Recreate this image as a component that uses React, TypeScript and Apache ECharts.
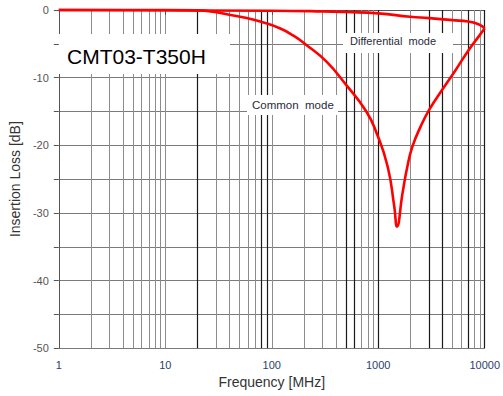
import React, { useEffect, useRef } from "react";
import * as echarts from "echarts";

const commonFreq = [1, 10, 20, 28, 41, 55, 78, 119, 160, 213, 325, 502, 773, 955, 1224, 1414, 1500, 1690, 1880, 2093, 2507, 2998, 3990, 5320, 7080, 8800, 10000];
const commonLoss = [0, 0, -0.05, -0.25, -0.74, -1.1, -1.7, -2.7, -3.8, -5.2, -7.6, -11.1, -15.0, -18.0, -23.1, -29.0, -32.0, -27.1, -23.1, -20.2, -17.2, -14.8, -11.8, -8.9, -5.9, -3.9, -2.7];

const diffFreq = [1, 100, 300, 500, 1000, 2000, 3000, 5000, 7000, 8000, 9000, 10000];
const diffLoss = [0, -0.1, -0.2, -0.3, -0.5, -1.0, -1.2, -1.5, -1.7, -1.9, -2.2, -2.7];

const xTickLabels = ["1", "10", "100", "1000", "10000"];
const yTicks = [0, -10, -20, -30, -40, -50];

const minorFreqs: number[] = [];
[1, 10, 100, 1000].forEach((d) => {
  for (let m = 2; m <= 9; m++) minorFreqs.push(m * d);
});
const darkFreqs = [20, 80, 90, 500, 600, 1000, 3000, 4000, 7000, 10000];

const FONT = "'Liberation Sans', Arial, sans-serif";

export default function App() {
  const ref = useRef<HTMLDivElement>(null);
  useEffect(() => {
    if (!ref.current) return;
    const chart = echarts.init(ref.current, null, { renderer: "svg" });
    const gridLines = [
      ...minorFreqs.filter((f) => !darkFreqs.includes(f)).map((f) => ({ xAxis: f, lineStyle: { color: "#8c8c8c", width: 1, type: "solid" } })),
      ...darkFreqs.map((f) => ({ xAxis: f, lineStyle: { color: "#1a1a1a", width: 1.2, type: "solid" } })),
    ];
    chart.setOption({
      animation: false,
      backgroundColor: "#ffffff",
      grid: { left: 57.3, right: 17, top: 10, bottom: 47.7, containLabel: false },
      xAxis: {
        type: "log",
        logBase: 10,
        min: 1,
        max: 10000,
        name: "Frequency [MHz]",
        nameLocation: "middle",
        nameGap: 26,
        nameTextStyle: { fontFamily: FONT, fontSize: 14, color: "#333" },
        axisLine: { show: true, lineStyle: { color: "#555", width: 1 } },
        axisTick: { show: true, length: 5, lineStyle: { color: "#555" } },
        axisLabel: {
          fontFamily: FONT,
          fontSize: 11,
          color: "#2b3f6b",
          margin: 11,
          formatter: (v: number) => {
            const s = String(Math.round(v));
            return xTickLabels.includes(s) ? s : "";
          },
        },
        splitLine: { show: true, lineStyle: { color: "#8c8c8c", width: 1 } },
      },
      yAxis: {
        type: "value",
        min: -50,
        max: 0,
        interval: 5,
        name: "Insertion Loss [dB]",
        nameLocation: "middle",
        nameGap: 33,
        nameRotate: 90,
        nameTextStyle: { fontFamily: FONT, fontSize: 14, color: "#333" },
        axisLine: { show: true, lineStyle: { color: "#555", width: 1 } },
        axisTick: { show: true, length: 5, lineStyle: { color: "#555" } },
        axisLabel: {
          fontFamily: FONT,
          fontSize: 11,
          color: "#555",
          margin: 10,
          formatter: (v: number) => (yTicks.includes(v) ? String(v) : ""),
        },
        splitLine: { show: true, lineStyle: { color: "#7a7a7a", width: 1 } },
      },
      graphic: [
        { type: "rect", shape: { x: 59, y: 34, width: 171, height: 40 }, style: { fill: "#fff" }, z: 10 },
        { type: "text", x: 67, y: 56, style: { text: "CMT03-T350H", font: `21px ${FONT}`, fill: "#000", textVerticalAlign: "middle" }, z: 11 },
        { type: "rect", shape: { x: 343, y: 33, width: 110, height: 20 }, style: { fill: "#fff" }, z: 10 },
        { type: "text", x: 350, y: 40.5, style: { text: "Differential  mode", font: `11px ${FONT}`, fill: "#2a2a3a", textVerticalAlign: "middle" }, z: 11 },
        { type: "rect", shape: { x: 247, y: 95, width: 91, height: 20 }, style: { fill: "#fff" }, z: 10 },
        { type: "text", x: 252, y: 105, style: { text: "Common  mode", font: `11.5px ${FONT}`, fill: "#2a2a3a", textVerticalAlign: "middle" }, z: 11 },
      ],
      series: [
        {
          type: "line",
          data: [[1, -50]],
          showSymbol: false,
          symbol: "none",
          lineStyle: { width: 0 },
          silent: true,
          z: 1,
          markLine: {
            silent: true,
            symbol: ["none", "none"],
            label: { show: false },
            animation: false,
            data: gridLines,
          },
        },
        {
          name: "Common mode",
          type: "line",
          data: commonFreq.map((f, i) => [f, commonLoss[i]]),
          smooth: 0.5,
          showSymbol: false,
          symbol: "none",
          clip: false,
          lineStyle: { color: "#ff0000", width: 2.6 },
          z: 5,
        },
        {
          name: "Differential mode",
          type: "line",
          data: diffFreq.map((f, i) => [f, diffLoss[i]]),
          smooth: 0.5,
          showSymbol: false,
          symbol: "none",
          clip: false,
          lineStyle: { color: "#ff0000", width: 2.6 },
          z: 5,
        },
      ],
    });
    return () => chart.dispose();
  }, []);
  return <div ref={ref} style={{ width: 503, height: 396, position: "absolute", left: 0, top: 0 }} />;
}
